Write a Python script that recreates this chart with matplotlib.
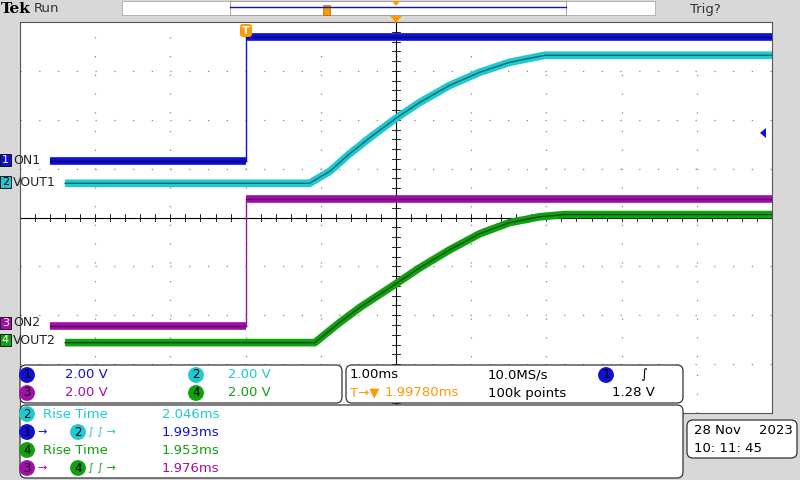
import matplotlib
matplotlib.use("Agg")
import matplotlib.pyplot as plt
from matplotlib.patches import FancyBboxPatch, Rectangle, Polygon

# ---- data (time in ms relative to trigger, volts) ----
ch1_t = [-2.6, 0.0, 0.0, 7.0]
ch1_v = [0.0, 0.0, 5.1, 5.1]
ch2_t = [-2.4, 0.85, 1.12, 1.38, 1.65, 1.99, 2.31, 2.71, 3.11, 3.51, 3.98, 7.0]
ch2_v = [0.0, 0.0, 0.49, 1.20, 1.86, 2.64, 3.30, 4.00, 4.54, 4.95, 5.24, 5.24]
ch3_t = [-2.6, 0.0, 0.0, 7.0]
ch3_v = [0.0, 0.0, 5.16, 5.16]
ch4_t = [-2.4, 0.92, 1.25, 1.52, 1.99, 2.31, 2.71, 3.11, 3.51, 3.91, 4.24, 7.0]
ch4_v = [0.0, 0.0, 0.82, 1.44, 2.39, 3.05, 3.79, 4.45, 4.91, 5.15, 5.24, 5.24]
offsets_div = [1.15, 0.70, -2.21, -2.56]
volts_per_div = 2.0
names = ["ON1", "VOUT1", "ON2", "VOUT2"]
colors = ["#1010d0", "#20c8d0", "#a010a8", "#10a010"]
dark = ["#000080", "#0a6a70", "#600060", "#085008"]

fig = plt.figure(figsize=(8, 4.8), dpi=100, facecolor="#d8d8d8")
ax = fig.add_axes([20/800, 67/480, 752/800, 391/480])
ax.set_facecolor("white")
ax.set_xlim(-3, 7)
ax.set_ylim(-4, 4)
for s in ax.spines.values():
    s.set_color("#555555"); s.set_linewidth(0.8)
ax.set_xticks([]); ax.set_yticks([])
# graticule
for i in range(-2, 7):
    ax.plot([i, i], [-4, 4], color="#888888", lw=0.9, ls=(0, (1, 14)), zorder=1)
for j in range(-3, 4):
    ax.plot([-3, 7], [j, j], color="#888888", lw=0.9, ls=(0, (1, 14)), zorder=1)
ax.axvline(2, color="black", lw=0.8, zorder=1)
ax.axhline(0, color="black", lw=0.8, zorder=1)
for k in range(-20, 21):
    ax.plot([2 - 0.05, 2 + 0.05], [k * 0.2, k * 0.2], color="black", lw=0.6, zorder=1)
for k in range(-15, 36):
    ax.plot([k * 0.2, k * 0.2], [-0.07, 0.07], color="black", lw=0.6, zorder=1)

series = [(ch1_t, ch1_v), (ch2_t, ch2_v), (ch3_t, ch3_v), (ch4_t, ch4_v)]
for idx, ((t, v), off, c, d) in enumerate(zip(series, offsets_div, colors, dark)):
    y = [off + vv / volts_per_div for vv in v]
    if idx in (0, 2):
        # thin edge, thick noisy flat levels
        ax.plot(t[1:3], y[1:3], color=c, lw=1.0, zorder=3)
        for a in (0, 2):
            ax.plot(t[a:a + 2], y[a:a + 2], color=c, lw=5.5, solid_capstyle="butt", zorder=3)
            ax.plot(t[a:a + 2], y[a:a + 2], color=d, lw=1.0, zorder=4)
    else:
        ax.plot(t, y, color=c, lw=5.5, solid_capstyle="butt", zorder=3)
        ax.plot(t, y, color=d, lw=1.0, zorder=4)

# ---- overlay in pixel coordinates ----
ov = fig.add_axes([0, 0, 1, 1], facecolor="none")
ov.set_xlim(0, 800); ov.set_ylim(480, 0); ov.axis("off")

fs = 9.5
# top bar
ov.text(1, 9, "Tek", fontsize=11, fontweight="bold", family="DejaVu Serif", va="center")
ov.text(34, 9, "Run", fontsize=fs, va="center", color="#333333")
ov.add_patch(Rectangle((122, 1), 533, 14, fc="white", ec="#aaaaaa", lw=0.6))
ov.add_patch(Rectangle((230, 1), 336, 14, fc="white", ec="#999999", lw=0.6))
ov.plot([230, 566], [7, 7], color="#1010c0", lw=1)
ov.add_patch(Rectangle((323, 5), 7, 10, fc="#ff9900", ec="#c06000", lw=0.5))
ov.add_patch(Polygon([[392, 1], [400, 1], [396, 6]], fc="#ff9900"))
ov.text(690, 9, "Trig?", fontsize=fs, va="center", color="#333333")
# trigger markers on plot
ov.add_patch(FancyBboxPatch((240, 24), 12, 13, boxstyle="round,pad=0,rounding_size=3", fc="#ff9900", ec="none"))
ov.text(246, 31, "T", fontsize=8, color="white", ha="center", va="center", fontweight="bold")
ov.add_patch(Polygon([[390, 16], [402, 16], [396, 23]], fc="#ff9900"))
ov.add_patch(Polygon([[766, 128], [766, 138], [760, 133]], fc="#1010d0"))

# channel markers
ypix = [160, 182, 323, 340]
for i, (yp, c, n) in enumerate(zip(ypix, colors, names)):
    ov.add_patch(Rectangle((0, yp - 6), 11, 12, fc=c, ec="black", lw=0.6))
    ov.text(5.5, yp, str(i + 1), fontsize=8, color="white" if i != 1 else "black", ha="center", va="center")
    ov.text(13, yp, n, fontsize=9, color="#222222", va="center")

def box(x, y, w, h):
    ov.add_patch(FancyBboxPatch((x, y), w, h, boxstyle="round,pad=0,rounding_size=6",
                                fc="white", ec="#333333", lw=0.9, zorder=5))

def badge(x, y, n, c):
    ov.text(x, y, str(n), fontsize=8.5, ha="center", va="center", color="black", zorder=7,
            bbox=dict(boxstyle="circle,pad=0.12", fc=c, ec="none"))

box(20, 365, 322, 38)
box(346, 365, 337, 38)
box(20, 405, 663, 73)
box(687, 420, 110, 38)

badge(27, 375, 1, colors[0]); ov.text(65, 375, "2.00 V", color=colors[0], fontsize=fs, va="center", zorder=7)
badge(27, 393, 3, colors[2]); ov.text(65, 393, "2.00 V", color=colors[2], fontsize=fs, va="center", zorder=7)
badge(196, 375, 2, colors[1]); ov.text(228, 375, "2.00 V", color=colors[1], fontsize=fs, va="center", zorder=7)
badge(196, 393, 4, colors[3]); ov.text(228, 393, "2.00 V", color=colors[3], fontsize=fs, va="center", zorder=7)

ov.text(350, 375, "1.00ms", fontsize=fs, va="center", zorder=7)
ov.text(488, 375, "10.0MS/s", fontsize=fs, va="center", zorder=7)
badge(606, 375, 1, colors[0]); ov.text(640, 375, "∫", fontsize=fs, va="center", zorder=7)
ov.text(350, 393, "T→▼", fontsize=fs, color="#ff9900", va="center", zorder=7)
ov.text(385, 393, "1.99780ms", fontsize=fs, color="#ff9900", va="center", zorder=7)
ov.text(488, 393, "100k points", fontsize=fs, va="center", zorder=7)
ov.text(612, 393, "1.28 V", fontsize=fs, va="center", zorder=7)

rows = [(414, [(2, colors[1])], "Rise Time", colors[1], "2.046ms", colors[1]),
        (432, [(1, colors[0]), (2, colors[1])], "", colors[1], "1.993ms", colors[0]),
        (450, [(4, colors[3])], "Rise Time", colors[3], "1.953ms", colors[3]),
        (468, [(3, colors[2]), (4, colors[3])], "", colors[3], "1.976ms", colors[2])]
for y, bs, lab, lc, val, vc in rows:
    badge(27, y, bs[0][0], bs[0][1])
    if len(bs) == 1:
        ov.text(43, y, lab, color=lc, fontsize=fs, va="center", zorder=7)
    else:
        ov.text(37, y, "→", color=bs[0][1], fontsize=8, va="center", zorder=7)
        badge(78, y, bs[1][0], bs[1][1])
        ov.text(88, y, "∫ ∫ →", color=lc, fontsize=8, va="center", zorder=7)
    ov.text(162, y, val, color=vc, fontsize=fs, va="center", zorder=7)

ov.text(694, 430, "28 Nov", fontsize=fs, va="center", zorder=7)
ov.text(793, 430, "2023", fontsize=fs, va="center", ha="right", zorder=7)
ov.text(694, 449, "10: 11: 45", fontsize=fs, va="center", zorder=7)

fig.savefig("out.png", dpi=100, facecolor=fig.get_facecolor())
